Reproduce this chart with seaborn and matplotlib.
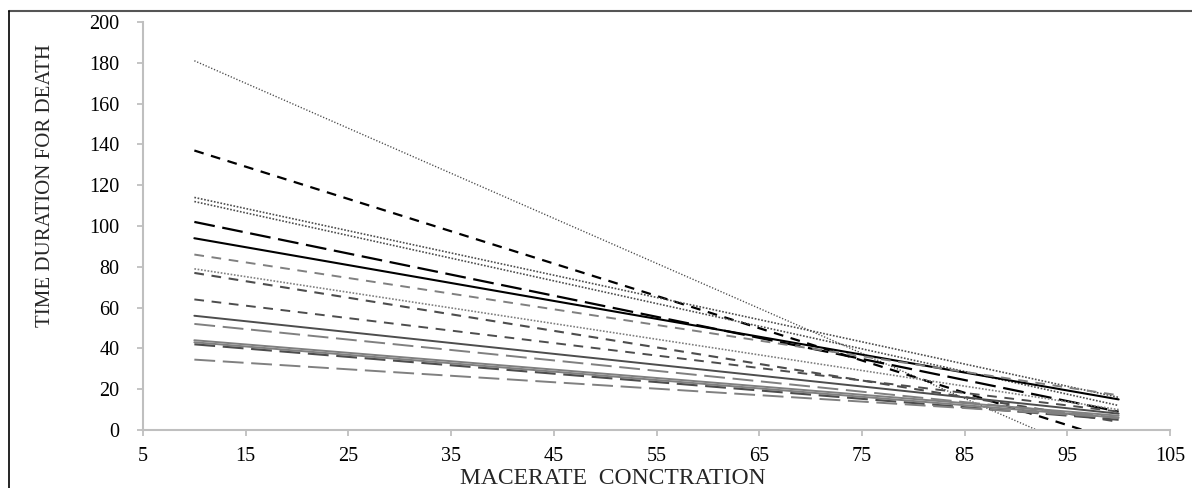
import matplotlib
matplotlib.use("Agg")
import matplotlib.pyplot as plt
import seaborn as sns
import pandas as pd
from matplotlib.lines import Line2D

# ---- data ----
conc = [10, 100]                      # macerate concentration at both ends of each trend line
series = ["S1", "S2", "S3", "S4", "S5", "S6", "S7", "S8",
          "S9", "S10", "S11", "S12", "S13", "S14", "S15", "S16"]
time_at_10 = [181, 137, 114, 112, 102, 94, 86, 79, 77, 64, 56, 52, 44, 43, 42, 34.5]
time_at_100 = [-17.6, -5.5, 16, 12, 9, 15, 17, 10, 4, 9, 8, 6, 7, 6, 5, 6]
x_ticks = [5, 15, 25, 35, 45, 55, 65, 75, 85, 95, 105]
y_ticks = [0, 20, 40, 60, 80, 100, 120, 140, 160, 180, 200]

# ---- styles ----
BLACK, DARK, GRAY = "#000000", "#4d4d4d", "#808080"
DOT = (0, (1.2, 1.2))
DOT_FINE = (0, (0.9, 1.3))
DASH = (0, (7, 5.5))
LDASH = (0, (15, 5.5))
styles = {
    "S1": (DARK, DOT_FINE, 1.0),
    "S2": (BLACK, DASH, 1.6),
    "S3": (DARK, DOT, 1.2),
    "S4": (DARK, DOT, 1.2),
    "S5": (BLACK, LDASH, 1.6),
    "S6": (BLACK, "-", 1.5),
    "S7": (GRAY, DASH, 1.4),
    "S8": (GRAY, DOT, 1.2),
    "S9": (DARK, DASH, 1.5),
    "S10": (DARK, DASH, 1.4),
    "S11": (DARK, "-", 1.4),
    "S12": (GRAY, LDASH, 1.4),
    "S13": (GRAY, "-", 1.4),
    "S14": (GRAY, "-", 1.4),
    "S15": (DARK, LDASH, 1.5),
    "S16": (GRAY, LDASH, 1.4),
}

rows = []
for name, a, b in zip(series, time_at_10, time_at_100):
    rows.append({"series": name, "conc": conc[0], "time": a})
    rows.append({"series": name, "conc": conc[1], "time": b})
df = pd.DataFrame(rows)

sns.set_style("white")
plt.rcParams["font.family"] = ["Liberation Serif", "DejaVu Serif"]
plt.rcParams["lines.scale_dashes"] = False

fig = plt.figure(figsize=(11.92, 4.88), dpi=100)
ax = fig.add_axes([143 / 1192, 58 / 488, 1027 / 1192, 408 / 488])

for name in series:
    color, ls, lw = styles[name]
    sub = df[df["series"] == name]
    sns.lineplot(data=sub, x="conc", y="time", ax=ax, color=color,
                 linestyle=ls, linewidth=lw, legend=False)

ax.set_xlim(5, 105)
ax.set_ylim(0, 200)
ax.set_xticks(x_ticks)
ax.set_yticks(y_ticks)
for s in ["top", "right"]:
    ax.spines[s].set_visible(False)
for s in ["left", "bottom"]:
    ax.spines[s].set_color("#bfbfbf")
    ax.spines[s].set_linewidth(1.5)
ax.tick_params(axis="both", which="major", direction="out", length=4,
               width=1.3, color="#bfbfbf", labelsize=14.5, labelcolor="black",
               left=True, bottom=True)
ax.tick_params(axis="y", pad=13)
ax.tick_params(axis="x", pad=8)

ax.set_xlabel("MACERATE  CONCTRATION", fontsize=17, va="top")
ax.xaxis.set_label_coords(0.457, -0.092)
ax.set_ylabel("TIME DURATION FOR DEATH", fontsize=15)
ax.yaxis.set_label_coords(-0.086, 0.60)

# outer frame of the figure (top and left edges visible in the reference)
fig.add_artist(Line2D([9 / 1192, 1.0], [1 - 11 / 488, 1 - 11 / 488],
                      transform=fig.transFigure, color="#555555", lw=1.5))
fig.add_artist(Line2D([9 / 1192, 9 / 1192], [0.0, 1 - 11 / 488],
                      transform=fig.transFigure, color="black", lw=1.2))

fig.savefig("out.png", dpi=100)
